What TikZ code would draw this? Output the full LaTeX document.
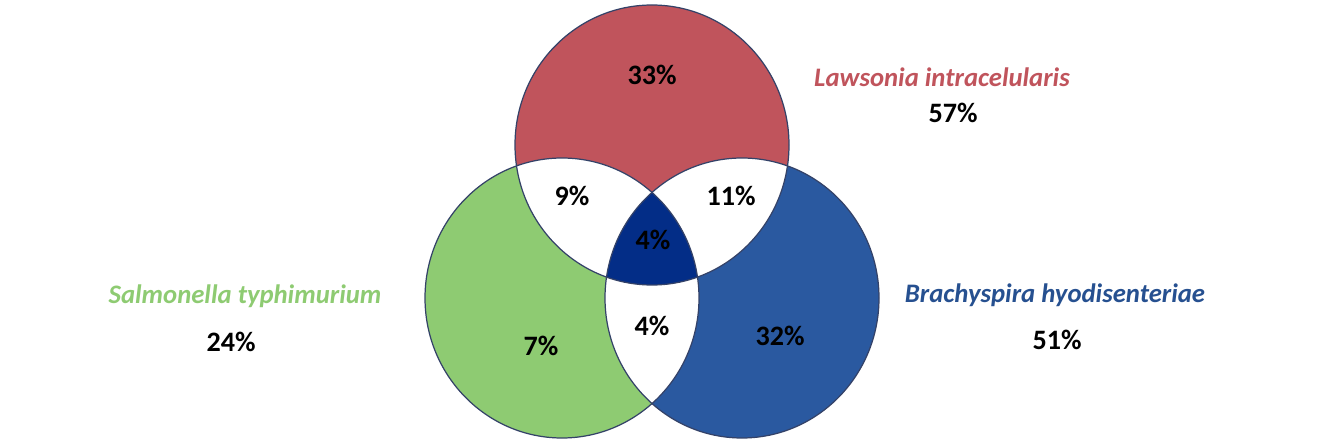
\documentclass[tikz,border=0pt]{standalone}
\usepackage{fontspec}
\setmainfont{Carlito}
\usepackage{tikz}
\definecolor{lawsred}{RGB}{192,84,92}
\definecolor{salmgreen}{RGB}{142,203,114}
\definecolor{brachblue}{RGB}{42,89,160}
\definecolor{coreblue}{RGB}{3,45,135}
\definecolor{rimblue}{RGB}{52,66,104}
\tikzset{
  rim/.style={draw=rimblue,line width=0.7pt},
  pct/.style={font=\fontsize{16}{19}\selectfont\bfseries,text=black},
  species/.style={font=\fontsize{15.2}{18}\selectfont\bfseries\itshape},
  total/.style={font=\fontsize{16}{19}\selectfont\bfseries,text=black}
}
\newcommand{\redset}{(652,145) ellipse [x radius=137,y radius=140]}
\newcommand{\greenset}{(562,298) ellipse [x radius=137,y radius=140]}
\newcommand{\blueset}{(742,298) ellipse [x radius=137,y radius=140]}

\begin{document}
\begin{tikzpicture}[x=0.02cm,y=-0.02cm]
  \useasboundingbox (0,0) rectangle (1333,442);
  \fill[lawsred] \redset;
  \fill[salmgreen] \greenset;
  \fill[brachblue] \blueset;
  \begin{scope}
    \clip \redset;
    \fill[white] \greenset;
    \fill[white] \blueset;
  \end{scope}
  \begin{scope}
    \clip \greenset;
    \fill[white] \blueset;
  \end{scope}
  \begin{scope}
    \clip \redset;
    \clip \greenset;
    \fill[coreblue] \blueset;
  \end{scope}
  \draw[rim] \redset;
  \draw[rim] \greenset;
  \draw[rim] \blueset;

  \node[pct] (onlyL) at (652,75) {33\%};
  \node[pct] (LS) at (572,196) {9\%};
  \node[pct] (LB) at (731,196) {11\%};
  \node[pct] (LSB) at (653,240) {4\%};
  \node[pct] (SB) at (652,326) {4\%};
  \node[pct] (onlyS) at (541,346) {7\%};
  \node[pct] (onlyB) at (780,336) {32\%};

  \node[species,text=lawsred] (lawsonia) at (942,77) {Lawsonia intracelularis};
  \node[total] (lawsoniatot) at (953,113) {57\%};
  \node[species,text=salmgreen] (salmonella) at (245,296) {Salmonella typhimurium};
  \node[total] (salmonellatot) at (231,342) {24\%};
  \node[species,text=brachblue!90!black] (brachyspira) at (1055,295) {Brachyspira hyodisenteriae};
  \node[total] (brachyspiratot) at (1057,340) {51\%};
\end{tikzpicture}
\end{document}
